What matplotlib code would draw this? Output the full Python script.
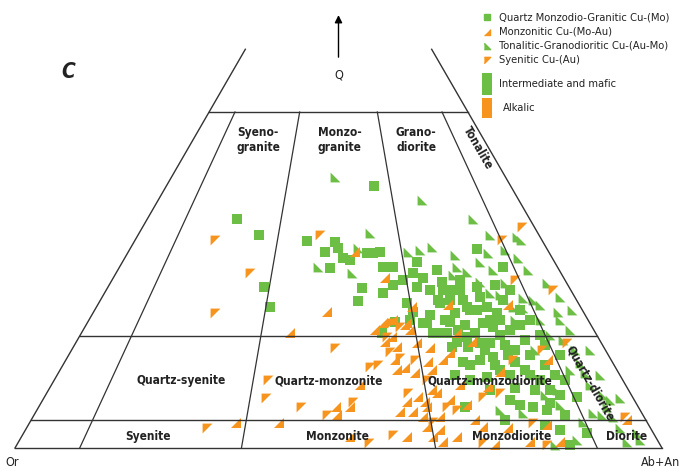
import numpy as np
import matplotlib.pyplot as plt
from matplotlib.patches import Rectangle

# QAP diagram (lower part), x = position along Or -> Ab+An base (%), q = Q (%)
green = '#6dbe45'
orange = '#f7941d'
line_col = '#333333'

# Quartz Monzodio-Granitic Cu-(Mo)
qmg_x = [55.5, 34.3, 37.7, 45.1, 49.5, 49.9, 47.9, 50.7, 48.7, 38.5, 39.4, 53.6, 53.0, 54.4, 55.3, 56.4,
         56.9, 58.4, 58.4, 56.9, 61.5, 62.1, 62.1, 63.1, 65.2, 66.0, 66.2, 67.7, 65.4, 71.4, 71.4, 71.9,
         75.4, 75.4, 70.3, 60.6, 69.2, 63.1, 65.2, 65.7, 68.0, 69.9, 71.4, 73.0, 69.6, 72.3, 67.5, 70.0,
         71.9, 73.4, 73.9, 66.8, 69.9, 69.2, 71.9, 73.9, 56.7, 63.7, 64.6, 61.5, 68.3, 69.6, 80.1, 82.2,
         85.0, 78.1, 82.7, 86.9, 88.4, 85.8, 76.5, 75.0, 76.5, 78.1, 75.7, 77.3, 78.8, 79.6, 81.1, 75.0,
         76.5, 78.8, 81.1, 81.9, 83.5, 84.2, 80.4, 84.2, 73.4, 68.0, 70.3, 78.1, 79.6, 74.5, 67.2, 64.1,
         61.1, 58.7, 81.9, 75.7, 84.2, 81.9, 70.3, 73.0, 77.3, 67.2, 68.8, 74.2, 76.5, 66.5, 68.5, 71.1,
         75.0, 72.6, 74.2, 77.3, 79.6, 64.1, 60.0, 51.8, 68.8, 73.4, 85.0, 82.7, 76.2]
qmg_q = [46.8, 40.9, 38.0, 37.0, 36.8, 35.7, 35.0, 33.9, 32.1, 28.8, 25.2, 28.6, 26.3, 34.8, 34.8, 35.0,
         32.3, 32.3, 29.1, 27.7, 31.3, 33.2, 28.8, 30.4, 31.8, 29.6, 28.2, 28.2, 26.4, 35.5, 28.8, 27.0,
         32.3, 26.4, 24.6, 25.9, 26.4, 22.3, 20.5, 25.9, 24.1, 25.2, 24.6, 25.2, 22.0, 22.3, 18.0, 18.0,
         18.8, 18.8, 21.6, 20.5, 19.8, 15.4, 15.7, 16.3, 20.5, 22.3, 20.5, 24.3, 18.9, 7.3, 7.3, 6.8,
         5.9, 7.7, 8.0, 9.1, 2.7, 0.6, 8.6, 22.9, 21.1, 22.0, 18.4, 17.5, 19.3, 16.6, 20.2, 13.9,
         13.0, 13.9, 12.1, 14.8, 13.0, 16.6, 10.4, 9.5, 10.4, 13.0, 12.1, 24.6, 22.9, 24.1, 22.5, 23.8,
         22.9, 22.5, 4.1, 5.0, 3.2, 18.4, 14.8, 12.7, 10.7, 26.4, 28.2, 29.1, 28.2, 22.9, 21.1, 20.5,
         20.2, 17.5, 14.8, 15.4, 13.0, 28.2, 30.0, 33.6, 30.0, 22.9, 12.1, 10.4, 16.6]

# Monzonitic Cu-(Mo-Au)
mzn_x = [52.6, 48.2, 42.5, 34.2, 40.8, 57.2, 61.4, 66.9, 76.2, 56.9, 60.6, 61.1, 57.2, 58.3, 59.0, 62.1,
         59.0, 60.3, 61.8, 64.5, 64.5, 62.3, 63.4, 60.6, 51.8, 49.8, 59.5, 61.5, 63.1, 65.7, 67.2, 69.9,
         63.7, 64.6, 65.7, 60.6, 51.8, 66.2, 68.3, 63.7, 65.2, 60.3, 58.4, 64.1, 68.3, 70.6, 58.7, 63.8,
         66.2, 67.2, 82.4, 73.1, 75.0, 94.6, 82.2, 76.2, 79.6, 74.2, 72.3, 84.2, 53.3, 55.6, 49.6, 68.8,
         71.1]
mzn_q = [35.0, 24.3, 20.5, 4.5, 4.5, 30.4, 25.2, 25.5, 25.5, 22.3, 22.3, 21.1, 18.9, 19.8, 18.0, 18.8,
         13.9, 14.3, 13.4, 13.9, 10.4, 9.1, 8.2, 8.2, 7.3, 5.9, 6.4, 6.4, 5.5, 5.5, 8.6, 7.7,
         3.8, 2.0, 3.2, 2.0, 2.0, 1.1, 2.0, 7.3, 9.8, 22.0, 22.9, 17.9, 20.5, 18.9, 15.7, 15.4,
         15.7, 17.0, 15.7, 10.9, 13.6, 5.0, 4.1, 3.6, 1.1, 0.6, 3.8, 1.1, 11.3, 21.1, 7.3, 11.3,
         5.0]

# Tonalitic-Granodioritic Cu-(Au-Mo)
tgd_x = [62.9, 49.5, 70.8, 73.4, 77.6, 60.7, 64.5, 73.1, 77.7, 68.3, 69.9, 71.9, 73.9, 67.7, 71.9, 73.4,
         75.0, 78.5, 80.1, 77.0, 78.2, 81.1, 84.2, 83.9, 78.5, 84.2, 85.8, 82.7, 84.7, 87.3, 88.1, 85.8,
         90.9, 91.5, 89.3, 90.7, 92.4, 93.5, 87.8, 96.1, 94.6, 78.5, 83.8, 54.9, 46.8, 52.1, 53.0, 62.6,
         81.1, 82.2, 86.6, 88.9, 92.0, 81.9, 75.0, 79.3, 75.7, 77.3, 88.9, 90.4, 93.5, 96.6, 86.9, 83.5,
         75.7, 68.0, 80.4, 84.2, 86.1]
tgd_q = [44.3, 48.4, 40.9, 38.0, 37.7, 35.0, 35.9, 34.8, 33.9, 32.3, 31.4, 33.2, 31.8, 30.9, 29.6, 27.7,
         27.3, 26.8, 26.4, 25.2, 37.1, 25.5, 27.0, 24.3, 25.0, 22.9, 21.1, 20.2, 19.3, 15.2, 13.4, 13.9,
         9.5, 7.3, 6.3, 5.9, 5.5, 3.6, 4.6, 2.7, 1.1, 6.3, 10.4, 38.4, 32.3, 31.3, 35.7, 35.4,
         22.9, 29.5, 17.5, 11.3, 8.6, 9.5, 6.8, 31.8, 29.5, 22.9, 17.5, 13.0, 8.9, 1.4, 1.4, 0.6,
         35.4, 34.5, 17.5, 7.7, 24.6]

# Syenitic Cu-(Au)
sye_x = [30.9, 36.3, 30.9, 47.1, 78.4, 75.3, 77.3, 83.2, 39.1, 38.8, 29.7, 49.5, 44.2, 54.7, 48.2, 54.9,
         56.1, 59.5, 61.8, 58.0, 52.2, 63.7, 60.7, 64.6, 68.3, 66.8, 85.3, 81.5, 77.0, 75.0, 72.3, 80.1,
         82.2, 94.3, 72.3, 58.3, 59.5, 57.5, 58.4]
sye_q = [37.1, 31.3, 24.1, 38.0, 39.5, 37.1, 30.0, 28.2, 12.1, 8.9, 3.6, 17.9, 7.3, 0.9, 5.9, 14.5,
         14.8, 16.1, 15.7, 17.1, 8.2, 12.1, 9.8, 4.6, 6.8, 7.3, 18.8, 17.5, 15.7, 9.8, 9.1, 4.5,
         0.5, 5.5, 0.9, 22.3, 21.6, 19.8, 2.3]

# field boundaries
q_levels = [5, 20, 60]
q_top = 71.2
ratios = [10, 35, 65, 90]

tri_ne = [(-1, -1), (1, -1), (1, 1)]   # right angle bottom-right
tri_sw = [(-1, -1), (1, -1), (-1, 1)]  # right angle bottom-left
tri_nw = [(-1, 1), (1, 1), (-1, -1)]   # right angle top-left

plt.rcParams['font.family'] = ['DejaVu Sans']
plt.rcParams['font.stretch'] = 'condensed'

fig = plt.figure(figsize=(6.83, 4.72), dpi=100)
ax = fig.add_axes([0, 0, 1, 1])
ax.set_xlim(-2.318, 103.246)
ax.set_ylim(-4.286, 80.0)
ax.axis('off')


def edge_x(q, r):
    # point at Q = q on the line P/(A+P) = r
    return q / 2 + r / 100 * (100 - q)


# outer sides
ax.plot([0, q_top / 2], [0, q_top], color=line_col, lw=1.0, zorder=3)
ax.plot([100, 100 - q_top / 2], [0, q_top], color=line_col, lw=1.0, zorder=3)
for q in [0] + q_levels:
    ax.plot([q / 2, 100 - q / 2], [q, q], color=line_col, lw=1.0, zorder=3)
for r in ratios:
    ax.plot([edge_x(0, r), edge_x(60, r)], [0, 60], color=line_col, lw=0.9, zorder=3)

ms = 50
ax.scatter(qmg_x, qmg_q, marker='s', s=ms, color=green, lw=0, zorder=2)
ax.scatter(tgd_x, tgd_q, marker=tri_sw, s=ms, color=green, lw=0, zorder=2)
ax.scatter(mzn_x, mzn_q, marker=tri_ne, s=ms, color=orange, lw=0, zorder=2)
ax.scatter(sye_x, sye_q, marker=tri_nw, s=ms, color=orange, lw=0, zorder=2)

lab = dict(fontsize=8.6, fontweight='bold', ha='center', va='center', color='#222222',
           zorder=4, linespacing=1.15)
ax.text(37.6, 55.0, 'Syeno-\ngranite', **lab)
ax.text(50.2, 55.0, 'Monzo-\ngranite', **lab)
ax.text(62.0, 55.0, 'Grano-\ndiorite', **lab)
ax.text(71.6, 53.6, 'Tonalite', rotation=-60, **lab)
ax.text(25.7, 12.0, 'Quartz-syenite', **lab)
ax.text(48.5, 12.0, 'Quartz-monzonite', **lab)
ax.text(73.4, 12.0, 'Quartz-monzodiorite', **lab)
ax.text(88.9, 11.6, 'Quartz-diorite', rotation=-60, **lab)
ax.text(20.6, 2.1, 'Syenite', **lab)
ax.text(49.9, 2.1, 'Monzonite', **lab)
ax.text(76.8, 2.1, 'Monzodiorite', **lab)
ax.text(94.6, 2.1, 'Diorite', **lab)

ax.text(-0.5, -2.6, 'Or', fontsize=9, ha='center', va='center', color='#222222')
ax.text(99.7, -2.6, 'Ab+An', fontsize=9, ha='center', va='center', color='#222222')
ax.text(8.2, 67.1, 'C', fontsize=15, fontweight='bold', fontstyle='italic',
        ha='center', va='center', color='#222222')
ax.text(50, 66.6, 'Q', fontsize=9, ha='center', va='center', color='#222222')
ax.annotate('', xy=(50, 77.8), xytext=(50, 69.3),
            arrowprops=dict(arrowstyle='-|>', color='black', lw=1.0, mutation_scale=11))

# legend
legend_rows = [('s', green, 'Quartz Monzodio-Granitic Cu-(Mo)'),
               (tri_ne, orange, 'Monzonitic Cu-(Mo-Au)'),
               (tri_sw, green, 'Tonalitic-Granodioritic Cu-(Au-Mo)'),
               (tri_nw, orange, 'Syenitic Cu-(Au)')]
W, H = 683.0, 472.0
for i, (mk, col, txt) in enumerate(legend_rows):
    py = 17 + i * 14.5
    fig.add_artist(plt.Line2D([487 / W], [1 - py / H], marker=mk, color=col, markersize=4.5,
                              lw=0, transform=fig.transFigure))
    fig.text(499 / W, 1 - py / H, txt, fontsize=8, ha='left', va='center', color='#222222')

fig.add_artist(Rectangle((482 / W, 1 - 95 / H), 10 / W, 22 / H, color=green, lw=0,
                         transform=fig.transFigure))
fig.text(499 / W, 1 - 84 / H, 'Intermediate and mafic', fontsize=8, ha='left', va='center',
         color='#222222')
fig.add_artist(Rectangle((482 / W, 1 - 118 / H), 10 / W, 20 / H, color=orange, lw=0,
                         transform=fig.transFigure))
fig.text(503 / W, 1 - 108 / H, 'Alkalic', fontsize=8, ha='left', va='center', color='#222222')

fig.savefig('out.png', dpi=100)
